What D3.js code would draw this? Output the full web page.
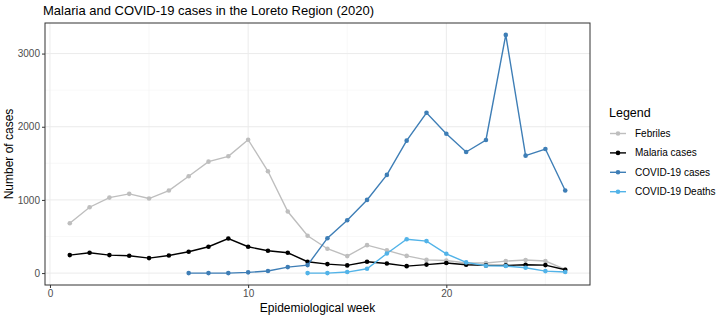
<!DOCTYPE html>
<html>
<head>
<meta charset="utf-8">
<script src="https://cdn.jsdelivr.net/npm/d3@7"></script>
<style>
  body { margin: 0; background: #fff; }
  text { font-family: "Liberation Sans", Arial, sans-serif; }
</style>
</head>
<body>
<div id="chart"></div>
<script>
// data
var weeks = d3.range(1, 27);
var febriles = [682, 900, 1032, 1083, 1019, 1128, 1323, 1523, 1596, 1823, 1391, 841, 510, 333, 232, 382, 310, 235, 180, 172, 137, 137, 164, 178, 165, 50];
var malaria = [246, 278, 246, 237, 205, 241, 291, 360, 473, 360, 305, 278, 155, 123, 105, 155, 132, 95, 116, 137, 114, 105, 105, 114, 109, 46];
var covidWeeks = d3.range(7, 27);
var covidCases = [0, 0, 0, 10, 28, 82, 109, 477, 723, 1000, 1342, 1810, 2191, 1905, 1655, 1819, 3255, 1605, 1696, 1128];
var deathWeeks = d3.range(13, 27);
var covidDeaths = [0, 0, 14, 59, 268, 462, 437, 264, 146, 101, 96, 73, 27, 14];
var seriesNames = ["Febriles", "Malaria cases", "COVID-19 cases", "COVID-19 Deaths"];
var seriesColors = ["#BEBEBE", "#000000", "#3E7EB6", "#52B3E8"];
var xTicks = [0, 10, 20];
var yTicks = [0, 1000, 2000, 3000];

var series = [
  {name: seriesNames[0], color: seriesColors[0], x: weeks, y: febriles},
  {name: seriesNames[1], color: seriesColors[1], x: weeks, y: malaria},
  {name: seriesNames[2], color: seriesColors[2], x: covidWeeks, y: covidCases},
  {name: seriesNames[3], color: seriesColors[3], x: deathWeeks, y: covidDeaths}
];

var width = 717, height = 317;
var margin = {top: 23, right: 127, bottom: 32, left: 45};
var pw = width - margin.left - margin.right,
    ph = height - margin.top - margin.bottom;

var svg = d3.select("#chart").append("svg")
    .attr("width", width)
    .attr("height", height);

// ggplot style 5% expansion
var xs = d3.scaleLinear().domain([1 - 1.25, 26 + 1.25]).range([0, pw]);
var yMax = 3255;
var ys = d3.scaleLinear().domain([-yMax * 0.05, yMax * 1.05]).range([ph, 0]);

var g = svg.append("g").attr("transform", "translate(" + margin.left + "," + margin.top + ")");

// grid
var minorX = [5, 15, 25], minorY = [500, 1500, 2500];
g.selectAll(".minx").data(minorX).enter().append("line")
  .attr("x1", xs).attr("x2", xs).attr("y1", 0).attr("y2", ph)
  .style("stroke", "#F4F4F4").style("stroke-width", 0.6);
g.selectAll(".miny").data(minorY).enter().append("line")
  .attr("y1", ys).attr("y2", ys).attr("x1", 0).attr("x2", pw)
  .style("stroke", "#F4F4F4").style("stroke-width", 0.6);
g.selectAll(".majx").data(xTicks).enter().append("line")
  .attr("x1", xs).attr("x2", xs).attr("y1", 0).attr("y2", ph)
  .style("stroke", "#EBEBEB").style("stroke-width", 1);
g.selectAll(".majy").data(yTicks).enter().append("line")
  .attr("y1", ys).attr("y2", ys).attr("x1", 0).attr("x2", pw)
  .style("stroke", "#EBEBEB").style("stroke-width", 1);

// lines and points
var line = d3.line().x(function(d) { return xs(d[0]); }).y(function(d) { return ys(d[1]); });
series.forEach(function(s) {
  var pts = s.x.map(function(w, i) { return [w, s.y[i]]; });
  g.append("path").datum(pts)
    .attr("d", line)
    .style("fill", "none")
    .style("stroke", s.color)
    .style("stroke-width", 1.4);
  g.selectAll(null).data(pts).enter().append("circle")
    .attr("cx", function(d) { return xs(d[0]); })
    .attr("cy", function(d) { return ys(d[1]); })
    .attr("r", 2.3)
    .style("fill", s.color);
});

// panel border
g.append("rect").attr("width", pw).attr("height", ph)
  .style("fill", "none").style("stroke", "#333333").style("stroke-width", 1);

// axes
var xAxis = g.append("g").attr("transform", "translate(0," + ph + ")")
  .call(d3.axisBottom(xs).tickValues(xTicks).tickFormat(d3.format("d")).tickSize(3).tickPadding(2));
var yAxis = g.append("g")
  .call(d3.axisLeft(ys).tickValues(yTicks).tickFormat(d3.format("d")).tickSize(3).tickPadding(2));
[xAxis, yAxis].forEach(function(a) {
  a.select(".domain").remove();
  a.selectAll("line").style("stroke", "#333333");
  a.selectAll("text").style("fill", "#4D4D4D").style("font-size", "10px")
    .style("font-family", "'Liberation Sans', Arial, sans-serif");
});

// titles
svg.append("text").attr("x", 43).attr("y", 15)
  .style("font-size", "13px").style("fill", "#000")
  .text("Malaria and COVID-19 cases in the Loreto Region (2020)");
svg.append("text").attr("x", margin.left + pw / 2).attr("y", 312)
  .attr("text-anchor", "middle").style("font-size", "12px")
  .text("Epidemiological week");
svg.append("text")
  .attr("transform", "translate(13," + (margin.top + ph / 2) + ") rotate(-90)")
  .attr("text-anchor", "middle").style("font-size", "12px")
  .text("Number of cases");

// legend
var lg = svg.append("g").attr("transform", "translate(609,0)");
lg.append("text").attr("x", 0).attr("y", 117).style("font-size", "12.5px").text("Legend");
series.forEach(function(s, i) {
  var cy = 133.5 + i * 19.4;
  lg.append("line").attr("x1", 1).attr("x2", 17).attr("y1", cy).attr("y2", cy)
    .style("stroke", s.color).style("stroke-width", 1.4);
  lg.append("circle").attr("cx", 9).attr("cy", cy).attr("r", 2.3).style("fill", s.color);
  lg.append("text").attr("x", 26).attr("y", cy + 3.5).style("font-size", "10px")
    .style("fill", "#000").text(s.name);
});
</script>
</body>
</html>
